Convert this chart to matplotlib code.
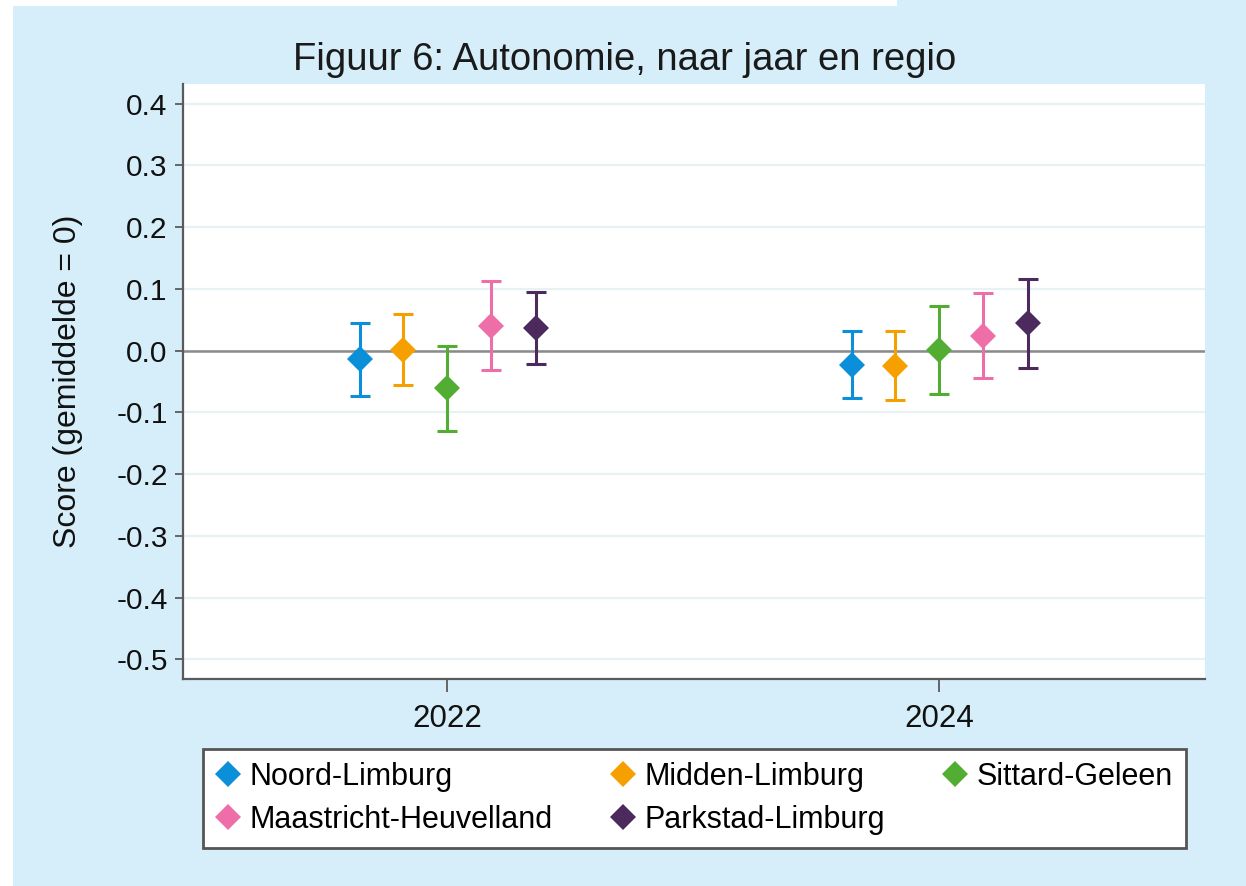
import numpy as np
import matplotlib
matplotlib.use("Agg")
import matplotlib.pyplot as plt
from matplotlib.patches import Rectangle
from matplotlib.lines import Line2D

# data
years = [2022, 2024]
regions = ["Noord-Limburg", "Midden-Limburg", "Sittard-Geleen",
           "Maastricht-Heuvelland", "Parkstad-Limburg"]
colors = ["#0a8fd8", "#f5a000", "#52ad33", "#ee6fa8", "#4d2a5e"]

# point estimates per region, [2022, 2024]
score = {
    "Noord-Limburg":         [-0.014, -0.024],
    "Midden-Limburg":        [0.001, -0.025],
    "Sittard-Geleen":        [-0.060, 0.001],
    "Maastricht-Heuvelland": [0.040, 0.024],
    "Parkstad-Limburg":      [0.036, 0.045],
}
ci_low = {
    "Noord-Limburg":         [-0.073, -0.077],
    "Midden-Limburg":        [-0.056, -0.080],
    "Sittard-Geleen":        [-0.130, -0.070],
    "Maastricht-Heuvelland": [-0.031, -0.045],
    "Parkstad-Limburg":      [-0.022, -0.028],
}
ci_high = {
    "Noord-Limburg":         [0.045, 0.032],
    "Midden-Limburg":        [0.059, 0.032],
    "Sittard-Geleen":        [0.008, 0.073],
    "Maastricht-Heuvelland": [0.113, 0.093],
    "Parkstad-Limburg":      [0.095, 0.116],
}
yticks = [-0.5, -0.4, -0.3, -0.2, -0.1, 0.0, 0.1, 0.2, 0.3, 0.4]
ytick_labels = ["-0.5", "-0.4", "-0.3", "-0.2", "-0.1",
                "0.0", "0.1", "0.2", "0.3", "0.4"]

offsets = [-0.355, -0.178, 0.0, 0.18, 0.36]

plt.rcParams['font.family'] = ['Liberation Sans', 'DejaVu Sans']

bg = "#d6eefa"
fig = plt.figure(figsize=(12.46, 8.86), dpi=100, facecolor=bg)

# white margins of the screenshot
fig.patches.append(Rectangle((0, 0), 13 / 1246, 1, transform=fig.transFigure,
                             facecolor="white", edgecolor="none", zorder=-1))
fig.patches.append(Rectangle((0, 1 - 6 / 886), 897 / 1246, 6 / 886,
                             transform=fig.transFigure,
                             facecolor="white", edgecolor="none", zorder=-1))

ax = fig.add_axes([183 / 1246, 207 / 886, 1022 / 1246, 595 / 886])
ax.set_facecolor("white")

for y in yticks:
    ax.axhline(y, color="#e8f1f4", lw=1.6, zorder=0)
ax.axhline(0, color="#8a8a8a", lw=1.8, zorder=1)

for i, reg in enumerate(regions):
    x = np.array(years) + offsets[i]
    c = np.array(score[reg])
    lo = c - np.array(ci_low[reg])
    hi = np.array(ci_high[reg]) - c
    ax.errorbar(x, c, yerr=[lo, hi], fmt="none", ecolor=colors[i],
                elinewidth=2.2, capsize=7, capthick=2.2, zorder=3)
    ax.plot(x, c, "D", color=colors[i], ms=13.5, mew=0, ls="none", zorder=4)

ax.set_xlim(2020.927, 2025.081)
ax.set_ylim(-0.532, 0.432)
ax.set_xticks(years)
ax.set_xticklabels([str(y) for y in years])
ax.set_yticks(yticks)
ax.set_yticklabels(ytick_labels)

for s in ["top", "right"]:
    ax.spines[s].set_visible(False)
for s in ["left", "bottom"]:
    ax.spines[s].set_color("#5a5a5a")
    ax.spines[s].set_linewidth(1.6)

ax.tick_params(axis="y", length=6, width=1.3, color="#5a5a5a",
               labelsize=21.5, pad=5, labelcolor="#111111")
ax.tick_params(axis="x", length=9, width=1.3, color="#5a5a5a",
               labelsize=22.5, pad=9, labelcolor="#111111")

fig.text(0.5015, 0.932, "Figuur 6: Autonomie, naar jaar en regio",
         ha="center", va="center", fontsize=27.5, color="#1a1a1a")
fig.text(0.0546, 1 - 381 / 886, "Score (gemiddelde = 0)", rotation=90,
         ha="center", va="center", fontsize=23, color="#111111")

# legend is filled column by column; order so rows read like the reference
order = [0, 3, 1, 4, 2]
handles = [Line2D([], [], marker="D", ls="none", color=colors[i], ms=13.5,
                  mew=0) for i in order]
labels = [regions[i] for i in order]
leg = fig.legend(handles, labels, ncol=3, loc="center",
                 bbox_to_anchor=(0.5574, 0.0988), fontsize=22,
                 frameon=True, fancybox=False, edgecolor="#555555",
                 framealpha=1, handlelength=0.8, handletextpad=0.3,
                 columnspacing=1.9, labelspacing=0.43, borderpad=0.43,
                 borderaxespad=0)
leg.get_frame().set_linewidth(2)

fig.savefig("out.png", dpi=100, facecolor=bg)
